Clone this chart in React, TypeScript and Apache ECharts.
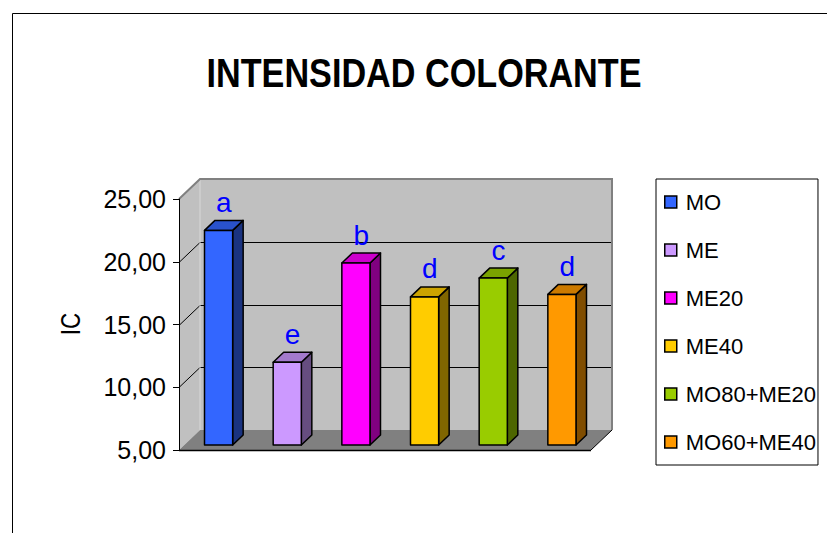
import React, { useEffect, useRef } from "react";
import * as echarts from "echarts";

const categories = ["MO", "ME", "ME20", "ME40", "MO80+ME20", "MO60+ME40"];
const values = [22.1, 11.6, 19.5, 16.8, 18.3, 17.0];
const letters = ["a", "e", "b", "d", "c", "d"];
const colors = ["#3366FF", "#CC99FF", "#FF00FF", "#FFCC00", "#99CC00", "#FF9900"];
const yTicks = [5, 10, 15, 20, 25];
const Y_MIN = 5;
const Y_MAX = 25;
const Y_STEP = 5;

const FONT = '"Liberation Sans", Arial, sans-serif';
const DX = 21;
const DY = -20;
const BAR_FRONT = 0.25;
const BAR_DEPTH = 0.5;
const BAR_WIDTH = 0.41;

function shade(hex: string, f: number): string {
  const n = parseInt(hex.slice(1), 16);
  const r = Math.round(((n >> 16) & 255) * f);
  const g = Math.round(((n >> 8) & 255) * f);
  const b = Math.round((n & 255) * f);
  return "rgb(" + r + "," + g + "," + b + ")";
}

function wallsRender(params: any, api: any) {
  const cs = params.coordSys;
  const x0 = cs.x;
  const x1 = cs.x + cs.width;
  const yT = cs.y;
  const yB = cs.y + cs.height;
  const children: any[] = [];
  children.push({
    type: "rect",
    shape: { x: x0 + DX, y: yT + DY, width: cs.width, height: cs.height },
    style: { fill: "#C0C0C0" },
  });
  children.push({
    type: "polygon",
    shape: { points: [[x0, yT], [x0 + DX, yT + DY], [x0 + DX, yB + DY], [x0, yB]] },
    style: { fill: "#C0C0C0" },
  });
  children.push({
    type: "polygon",
    shape: { points: [[x0, yB], [x0 + DX, yB + DY], [x1 + DX, yB + DY], [x1, yB]] },
    style: { fill: "#808080" },
  });
  yTicks
    .filter((v) => v > Y_MIN && v < Y_MAX)
    .forEach((v) => {
      const y = Math.round(api.coord([0, v])[1]) + 0.5;
      children.push({
        type: "line",
        shape: { x1: x0, y1: y, x2: x0 + DX, y2: y + DY },
        style: { stroke: "#000", lineWidth: 1 },
      });
      children.push({
        type: "line",
        shape: { x1: x0 + DX, y1: y + DY, x2: x1 + DX, y2: y + DY },
        style: { stroke: "#000", lineWidth: 1 },
      });
    });
  children.push({
    type: "line",
    shape: { x1: x0 + DX, y1: yT + DY, x2: x0 + DX, y2: yB + DY },
    style: { stroke: "#D8D8D8", lineWidth: 1 },
  });
  children.push({
    type: "polyline",
    shape: { points: [[x0, yT], [x0 + DX, yT + DY], [x1 + DX, yT + DY], [x1 + DX, yB + DY]] },
    style: { stroke: "#808080", lineWidth: 2, fill: "none" },
  });
  children.push({
    type: "line",
    shape: { x1: x1, y1: yB, x2: x1 + DX, y2: yB + DY },
    style: { stroke: "#000", lineWidth: 1 },
  });
  children.push({
    type: "line",
    shape: { x1: x0, y1: yB + 0.5, x2: x1, y2: yB + 0.5 },
    style: { stroke: "#000", lineWidth: 1.5 },
  });
  return { type: "group", children };
}

function makeBarRender(i: number) {
  return (params: any, api: any) => {
    const idx = api.value(0);
    const val = api.value(1);
    const top = api.coord([idx, val]);
    const base = api.coord([idx, Y_MIN]);
    const catW = api.size([1, 0])[0];
    const w = catW * BAR_WIDTH;
    const ox = DX * BAR_FRONT;
    const oy = DY * BAR_FRONT;
    const bdx = DX * BAR_DEPTH;
    const bdy = DY * BAR_DEPTH;
    const xa = top[0] - w / 2 + ox;
    const xb = xa + w;
    const yt = top[1] + oy;
    const yb = base[1] + oy;
    const c = colors[i];
    const edge = { stroke: "#000", lineWidth: 1.5, lineJoin: "round" };
    return {
      type: "group",
      children: [
        {
          type: "polygon",
          shape: { points: [[xb, yt], [xb + bdx, yt + bdy], [xb + bdx, yb + bdy], [xb, yb]] },
          style: { fill: shade(c, 0.5), ...edge },
        },
        {
          type: "polygon",
          shape: { points: [[xa, yt], [xb, yt], [xb + bdx, yt + bdy], [xa + bdx, yt + bdy]] },
          style: { fill: shade(c, 0.8), ...edge },
        },
        {
          type: "rect",
          shape: { x: xa, y: yt, width: w, height: yb - yt },
          style: { fill: c, ...edge },
        },
        {
          type: "text",
          x: (xa + xb + bdx) / 2,
          y: yt + bdy - 4,
          style: {
            text: letters[i],
            fill: "#0000FF",
            fontSize: 28,
            fontFamily: FONT,
            align: "center",
            verticalAlign: "bottom",
          },
        },
      ],
    };
  };
}

export default function App() {
  const ref = useRef<HTMLDivElement>(null);
  useEffect(() => {
    if (!ref.current) return;
    const chart = echarts.init(ref.current, null, { renderer: "svg" });
    const barSeries = categories.map((name, i) => ({
      type: "custom",
      name,
      data: [[i, values[i]]],
      itemStyle: { color: colors[i] },
      z: 5,
      renderItem: makeBarRender(i),
    }));
    chart.setOption({
      animation: false,
      backgroundColor: "#fff",
      graphic: [
        {
          type: "rect",
          shape: { x: 12.5, y: 13.5, width: 1000, height: 1000 },
          style: { fill: "none", stroke: "#000", lineWidth: 1 },
          silent: true,
        },
        {
          type: "text",
          x: 424,
          y: 73,
          scaleX: 0.855,
          style: {
            text: "INTENSIDAD COLORANTE",
            fontSize: 40,
            fontWeight: "bold",
            fontFamily: FONT,
            fill: "#000",
            align: "center",
            verticalAlign: "middle",
          },
        },
        {
          type: "text",
          x: 70,
          y: 324,
          rotation: Math.PI / 2,
          scaleX: 0.8,
          style: {
            text: "IC",
            fontSize: 28,
            fontFamily: FONT,
            fill: "#000",
            align: "center",
            verticalAlign: "middle",
          },
        },
      ],
      legend: {
        orient: "vertical",
        left: 656,
        top: 179,
        data: categories,
        icon: "rect",
        itemWidth: 12,
        itemHeight: 12,
        itemGap: 26,
        padding: [12, 2, 12, 8],
        borderColor: "#000",
        borderWidth: 1,
        backgroundColor: "#fff",
        itemStyle: { borderColor: "#000", borderWidth: 1.5 },
        textStyle: { fontSize: 22, fontFamily: FONT, color: "#000", padding: [0, 0, 0, 4] },
      },
      grid: { left: 179, top: 199, width: 412, height: 251 },
      xAxis: {
        type: "category",
        data: categories,
        z: 3,
        axisLine: { show: false },
        axisTick: { show: false },
        axisLabel: { show: false },
        splitLine: { show: false },
      },
      yAxis: {
        type: "value",
        min: Y_MIN,
        max: Y_MAX,
        interval: Y_STEP,
        z: 3,
        axisLine: { show: true, lineStyle: { color: "#000", width: 1 } },
        axisTick: { show: true, length: 6, lineStyle: { color: "#000" } },
        axisLabel: {
          margin: 13,
          fontSize: 25,
          fontFamily: FONT,
          color: "#000",
          formatter: (v: number) => v.toFixed(2).replace(".", ","),
        },
        splitLine: { show: false },
      },
      series: [
        {
          type: "custom",
          name: "walls",
          silent: true,
          z: 1,
          data: [[0, Y_MIN]],
          renderItem: wallsRender,
        },
        ...barSeries,
      ],
    });
    return () => chart.dispose();
  }, []);
  return (
    <div
      ref={ref}
      style={{ position: "fixed", left: 0, top: 0, width: 827, height: 533 }}
    />
  );
}
